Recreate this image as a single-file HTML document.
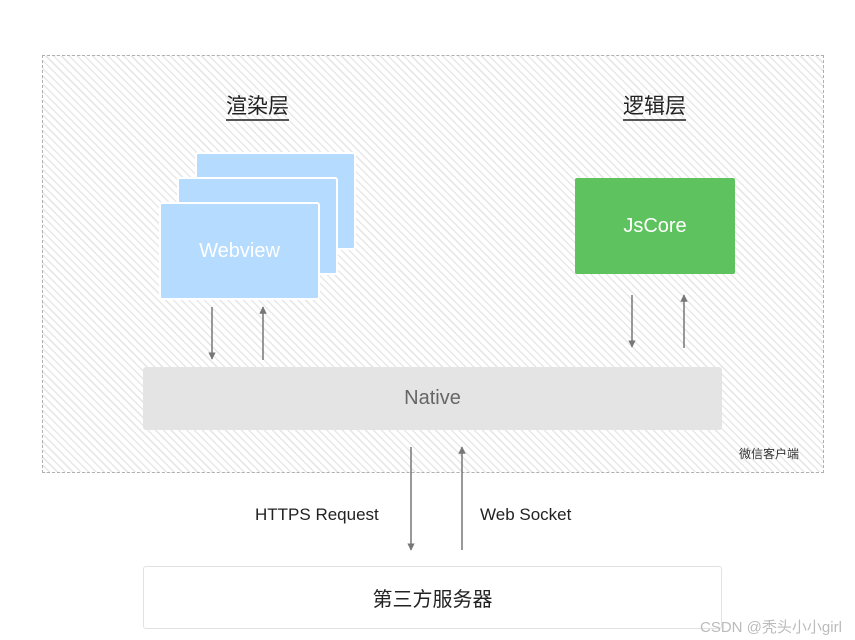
<!DOCTYPE html>
<html><head><meta charset="utf-8"><style>
body{margin:0;width:855px;height:640px;background:#fff;position:relative;overflow:hidden;font-family:"Liberation Sans","Noto Sans CJK SC",sans-serif}
.a{position:absolute;box-sizing:border-box}
.hatch{left:42px;top:55px;width:782px;height:418px;border:1px dashed #b0b0b0;
background:repeating-linear-gradient(45deg,#fff 0,#fff 4px,#e8e8e8 4px,#e8e8e8 5.5px)}
.card{background:#b5dbfe;border:2px solid #fff;border-radius:3px;width:161px;height:98px}
.t{position:absolute;white-space:nowrap}
</style></head><body>
<div class="a hatch"></div>
<div class="t" style="left:226px;top:95px;font-size:21px;color:#222;border-bottom:2px solid #555;line-height:24px">渲染层</div>
<div class="t" style="left:623px;top:95px;font-size:21px;color:#222;border-bottom:2px solid #555;line-height:24px">逻辑层</div>
<div class="a card" style="left:195px;top:152px"></div>
<div class="a card" style="left:177px;top:177px"></div>
<div class="a card" style="left:159px;top:202px;display:flex;align-items:center;justify-content:center;color:#fff;font-size:20px">Webview</div>
<div class="a" style="left:575px;top:178px;width:160px;height:96px;background:#5ec35e;border-radius:2px;display:flex;align-items:center;justify-content:center;color:#fff;font-size:20px">JsCore</div>
<div class="a" style="left:143px;top:367px;width:579px;height:63px;background:#e4e4e4;border-radius:3px;display:flex;align-items:center;justify-content:center;color:#666;font-size:20px">Native</div>
<div class="t" style="left:739px;top:445px;font-size:12px;color:#333">微信客户端</div>
<div class="a" style="left:143px;top:566px;width:579px;height:63px;border:1px solid #e2e2e2;border-radius:3px;display:flex;align-items:center;justify-content:center;color:#222;font-size:20px">第三方服务器</div>
<div class="t" style="left:255px;top:505px;font-size:17px;color:#222">HTTPS Request</div>
<div class="t" style="left:480px;top:505px;font-size:17px;color:#222">Web Socket</div>
<svg class="a" style="left:0;top:0" width="855" height="640">
<defs><marker id="m" viewBox="0 0 10 10" refX="9" refY="5" markerWidth="5" markerHeight="5" orient="auto"><path d="M0,0L10,5L0,10z" fill="#777"/></marker></defs>
<g stroke="#777" stroke-width="1.5" marker-end="url(#m)">
<line x1="212" y1="307" x2="212" y2="359"/>
<line x1="263" y1="360" x2="263" y2="307"/>
<line x1="632" y1="295" x2="632" y2="347"/>
<line x1="684" y1="348" x2="684" y2="295"/>
<line x1="411" y1="447" x2="411" y2="550"/>
<line x1="462" y1="550" x2="462" y2="447"/>
</g></svg>
<div class="t" style="left:700px;top:616px;font-size:15px;color:#bbb">CSDN @秃头小小girl</div>
</body></html>
